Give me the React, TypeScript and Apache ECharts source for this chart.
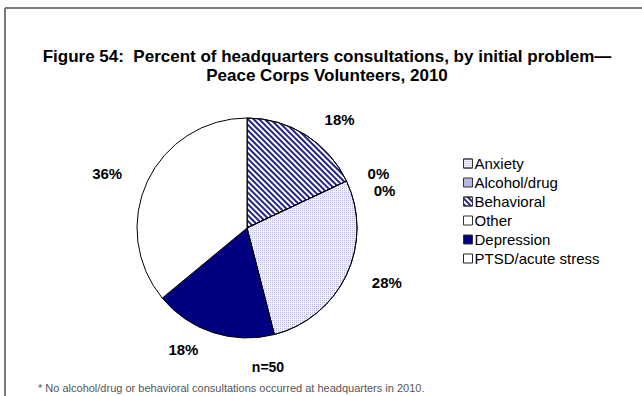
import React, { useEffect, useRef } from "react";
import * as echarts from "echarts";

const titleLines = [
  "Figure 54:  Percent of headquarters consultations, by initial problem—",
  "Peace Corps Volunteers, 2010",
];
// slices in clockwise order from 12 o'clock (counts, n=50)
const sliceNames = ["PTSD/acute stress", "Alcohol/drug", "Behavioral", "Anxiety", "Depression", "Other"];
const sliceCounts = [9, 0, 0, 14, 9, 18];
const legendOrder = ["Anxiety", "Alcohol/drug", "Behavioral", "Other", "Depression", "PTSD/acute stress"];
const sampleNote = "n=50";
const footnote = "* No alcohol/drug or behavioral consultations occurred at headquarters in 2010.";

const FONT = "'Liberation Sans', Arial, sans-serif";

const hatch = {
  color: "#ffffff",
  decal: {
    symbol: "rect",
    symbolSize: 1,
    dashArrayX: [1, 0],
    dashArrayY: [2, 2],
    rotation: Math.PI / 4,
    color: "#23238a",
  },
};
const dotted = {
  color: "#f2f2fa",
  decal: {
    symbol: "rect",
    symbolSize: 1,
    dashArrayX: [1, 1],
    dashArrayY: [1, 1],
    rotation: 0,
    color: "#b8b8de",
  },
};
const styles: Record<string, any> = {
  "PTSD/acute stress": hatch,
  "Alcohol/drug": { color: "#b8b8e4" },
  Behavioral: hatch,
  Anxiety: dotted,
  Depression: { color: "#000080" },
  Other: { color: "#ffffff" },
};

export default function App() {
  const ref = useRef<HTMLDivElement>(null);
  useEffect(() => {
    if (!ref.current) return;
    const chart = echarts.init(ref.current, null, { renderer: "svg" });
    chart.setOption({
      animation: false,
      backgroundColor: "#ffffff",
      title: [
        {
          text: titleLines.join("\n"),
          left: 322,
          top: 42,
          textAlign: "center",
          textStyle: { fontFamily: FONT, fontSize: 17, fontWeight: "bold", color: "#000", lineHeight: 19 },
        },
        {
          text: sampleNote,
          left: 263,
          top: 355,
          textAlign: "center",
          textStyle: { fontFamily: FONT, fontSize: 14, fontWeight: "bold", color: "#000" },
        },
        {
          text: footnote,
          left: 33,
          top: 377,
          textStyle: { fontFamily: FONT, fontSize: 11, fontWeight: "normal", color: "#555" },
        },
      ],
      legend: {
        orient: "vertical",
        left: 458,
        top: 151,
        itemWidth: 9,
        itemHeight: 9,
        itemGap: 4,
        icon: "rect",
        selectedMode: false,
        textStyle: { fontFamily: FONT, fontSize: 15, color: "#000", padding: [0, 0, 0, -3] },
        data: legendOrder.map((n) => ({
          name: n,
          itemStyle:
            n === "PTSD/acute stress"
              ? { color: "#ffffff", borderColor: "#222", borderWidth: 1, decal: "none" }
              : { borderColor: "#333", borderWidth: 1 },
        })),
      },
      graphic: [
        { type: "line", shape: { x1: 5, y1: 8, x2: 642, y2: 8 }, style: { stroke: "#7a7a7a", lineWidth: 2 } },
        { type: "line", shape: { x1: 5, y1: 8, x2: 5, y2: 396 }, style: { stroke: "#7a7a7a", lineWidth: 2 } },
      ],
      series: [
        {
          type: "pie",
          center: [247, 228],
          radius: 110,
          startAngle: 90,
          clockwise: true,
          avoidLabelOverlap: true,
          percentPrecision: 0,
          itemStyle: { borderColor: "#000", borderWidth: 1 },
          label: {
            show: true,
            position: "outside",
            alignTo: "none",
            formatter: "{d}%",
            fontFamily: FONT,
            fontSize: 15,
            fontWeight: "bold",
            color: "#000",
          },
          labelLine: { show: false, length: 18, length2: 4 },
          emphasis: { disabled: true },
          data: sliceNames.map((n, i) => ({ name: n, value: sliceCounts[i], itemStyle: styles[n] })),
        },
      ],
    });
    return () => chart.dispose();
  }, []);
  return (
    <div
      ref={ref}
      style={{ position: "fixed", left: 0, top: 0, width: 642, height: 396 }}
    />
  );
}
